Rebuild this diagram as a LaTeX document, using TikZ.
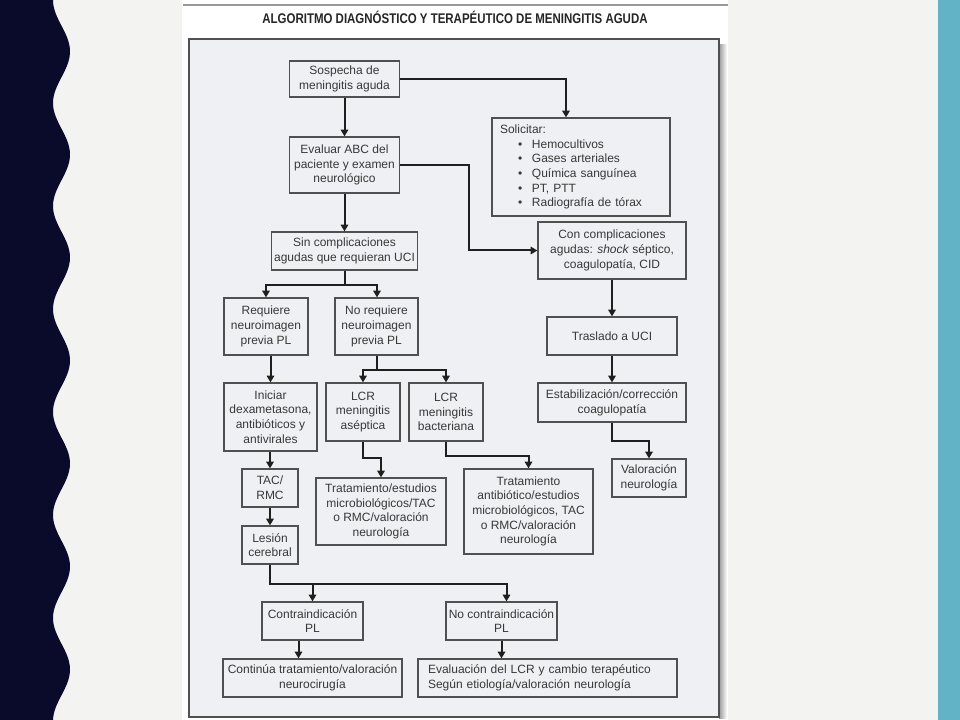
\documentclass[tikz,border=0pt]{standalone}
\usepackage{fontspec}
\setmainfont{Liberation Sans}
\usetikzlibrary{arrows.meta,calc}
\definecolor{navy}{HTML}{0A0A2B}
\definecolor{tealstrip}{HTML}{63B3C7}
\definecolor{bgc}{HTML}{F3F3F2}
\definecolor{framefill}{HTML}{EFF0F3}
\definecolor{boxline}{HTML}{505050}
\definecolor{txt}{HTML}{383838}
\begin{document}
\begin{tikzpicture}[x=0.75pt,y=-0.75pt,
  box/.style={draw=boxline, line width=0.9pt, align=center, inner sep=0pt, text=txt,
    font=\fontsize{9}{11}\selectfont},
  sz/.style 2 args={minimum width=#1*0.75pt, minimum height=#2*0.75pt},
  arr/.style={draw=black!88, line width=1.5pt, -{Triangle[length=5pt,width=5.5pt]}},
]
\useasboundingbox (0,0) rectangle (960,720);
% background
\fill[bgc] (0,0) rectangle (960,720);
\fill[tealstrip] (938,0) rectangle (960,720);
\fill[navy] (0,0) -- plot[domain=0:720, samples=240] ({61.5-8.5*cos(3.49515*\x)}, \x) -- (0,720) -- cycle;
% page
\fill[white] (182,0) rectangle (728,720);
\draw[black!40, line width=1.5pt] (183,5) -- (728,5);
\shade[left color=black!40, right color=white] (719,45) rectangle (727,718);
\draw[boxline, line width=1.1pt, fill=framefill] (189,39) rectangle (719,717);
% title
\node[text=black!85, font=\fontsize{10.5}{12}\selectfont\bfseries] (title) at (455,17)
  {\scalebox{0.82}[1]{ALGORITMO DIAGNÓSTICO Y TERAPÉUTICO DE MENINGITIS AGUDA}};
% boxes
\node[box, sz={110}{36}] (sosp) at (344.5,79) {Sospecha de\\meningitis aguda};
\node[box, sz={110}{56}] (eval) at (344.5,165) {Evaluar ABC del\\paciente y examen\\neurológico};
\node[box, sz={146}{38}] (sin) at (344.5,251) {Sin complicaciones\\agudas que requieran UCI};
\node[box, sz={148}{57}] (con) at (612,250.5) {Con complicaciones\\agudas: \textit{shock} séptico,\\coagulopatía, CID};
\node[box, sz={178}{98}, align=left, text width=121.5pt, inner xsep=6pt] (solic) at (581,167)
  {Solicitar:\\
   \hspace*{13.5pt}\textbullet\hspace{7.3pt}Hemocultivos\\
   \hspace*{13.5pt}\textbullet\hspace{7.3pt}Gases arteriales\\
   \hspace*{13.5pt}\textbullet\hspace{7.3pt}Química sanguínea\\
   \hspace*{13.5pt}\textbullet\hspace{7.3pt}PT, PTT\\
   \hspace*{13.5pt}\textbullet\hspace{7.3pt}Radiografía de tórax};
\node[box, sz={84}{57}] (req) at (266,326.5) {Requiere\\neuroimagen\\previa PL};
\node[box, sz={83}{57}] (noreq) at (376.5,326.5) {No requiere\\neuroimagen\\previa PL};
\node[box, sz={93}{68}] (inic) at (270.5,417) {Iniciar\\dexametasona,\\antibióticos y\\antivirales};
\node[box, sz={74}{58}] (lcra) at (363,412) {LCR\\meningitis\\aséptica};
\node[box, sz={74}{58}] (lcrb) at (446,412) {LCR\\meningitis\\bacteriana};
\node[box, sz={130}{38}] (trasl) at (612,336) {Traslado a UCI};
\node[box, sz={148}{39}] (estab) at (612,402.5) {Estabilización/corrección\\coagulopatía};
\node[box, sz={74}{38}] (valor) at (649,478) {Valoración\\neurología};
\node[box, sz={56}{38}] (tac) at (270,488) {TAC/\\RMC};
\node[box, sz={56}{38}] (lesion) at (270,545) {Lesión\\cerebral};
\node[box, sz={130}{67}] (trat1) at (381,511.5) {Tratamiento/estudios\\microbiológicos/TAC\\o RMC/valoración\\neurología};
\node[box, sz={129}{85}] (trat2) at (528.5,511.5) {Tratamiento\\antibiótico/estudios\\microbiológicos, TAC\\o RMC/valoración\\neurología};
\node[box, sz={101}{38}] (contra) at (312.5,621) {Contraindicación\\PL};
\node[box, sz={111}{38}] (nocontra) at (501.5,621) {No contraindicación\\PL};
\node[box, sz={179}{38}] (contin) at (312.5,678) {Continúa tratamiento/valoración\\neurocirugía};
\node[box, sz={259}{38}, align=left, text width=179.25pt, inner xsep=7.5pt] (evalu) at (547.5,678)
  {Evaluación del LCR y cambio terapéutico\\Según etiología/valoración neurología};
% connectors
\draw[arr] (sosp.east) -| ($(solic.north)+(-15,0)$);
\draw[arr] (sosp.south) -- (eval.north);
\draw[arr] (eval.east) -- ++(69,0) |- (con.west);
\draw[arr] (eval.south) -- (sin.north);
\draw[arr] (sin.south) -- ++(0,14) -| (req.north);
\draw[arr] (sin.south) -- ++(0,14) -| ($(noreq.north)+(0.5,0)$);
\draw[arr] (req.south -| inic.north) -- (inic.north);
\draw[arr] ($(noreq.south)+(0.5,0)$) -- ++(0,14) -| (lcra.north);
\draw[arr] ($(noreq.south)+(0.5,0)$) -- ++(0,14) -| (lcrb.north);
\draw[arr] (lcra.south) -- ++(0,16) -| (trat1.north);
\draw[arr] (lcrb.south) -- ++(0,14) -| (trat2.north);
\draw[arr] (con.south) -- (trasl.north);
\draw[arr] (trasl.south) -- (estab.north);
\draw[arr] (estab.south) -- ++(0,18.5) -| (valor.north);
\draw[arr] (inic.south -| tac.north) -- (tac.north);
\draw[arr] (tac.south) -- (lesion.north);
\draw[arr] (lesion.south) -- ++(0,19) -| (contra.north);
\draw[arr] (lesion.south) -- ++(0,19) -| ($(nocontra.north)+(5,0)$);
\draw[arr] ($(contra.south)+(-14,0)$) -- ($(contin.north)+(-14,0)$);
\draw[arr] (nocontra.south) -- (nocontra.south |- evalu.north);
\end{tikzpicture}
\end{document}
